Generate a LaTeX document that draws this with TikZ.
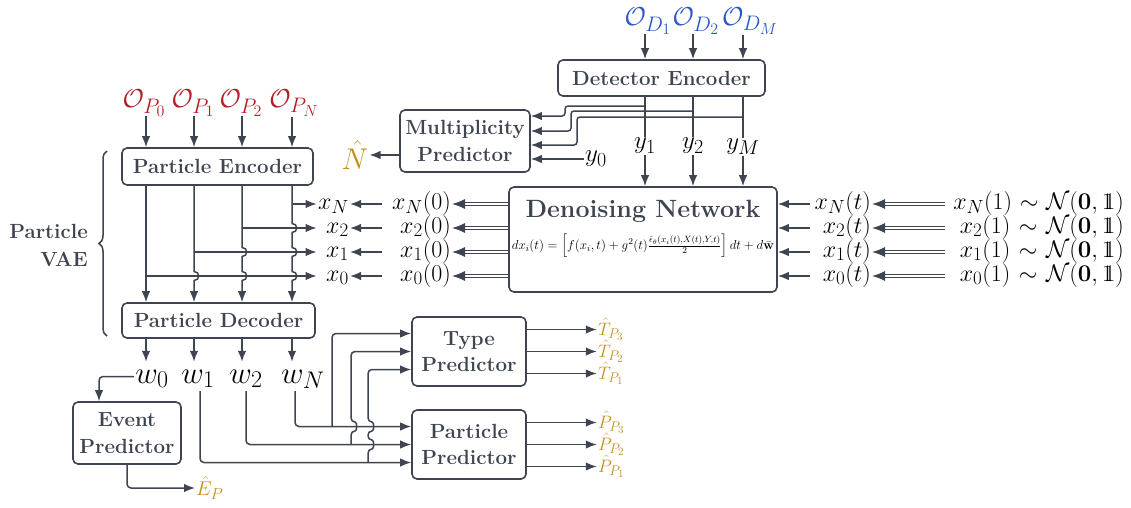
\RequirePackage{fix-cm}
\documentclass[tikz,border=0pt]{standalone}
\usepackage{amsmath,amssymb}
\usetikzlibrary{arrows.meta,calc,decorations.pathreplacing}
\definecolor{dgLine}{RGB}{62,68,80}
\definecolor{dgRed}{RGB}{176,30,36}
\definecolor{dgBlue}{RGB}{44,86,200}
\definecolor{dgGold}{RGB}{196,143,26}
\newcommand{\idone}{\mathrm{1}\mkern-6.5mu\mathrm{1}}
\DeclareMathSizes{24}{24}{19}{15}
\DeclareMathSizes{25}{25}{20}{15}
\DeclareMathSizes{26}{26}{21}{16}
\DeclareMathSizes{30}{30}{23}{17}
\DeclareMathSizes{31}{31}{24}{18}
\DeclareMathSizes{18}{18}{14}{11}
\DeclareMathSizes{20}{20}{16}{12}

\begin{document}
\begin{tikzpicture}[
  x=1pt, y=-1pt,
  blk/.style={rounded corners=5pt, draw=dgLine, line width=1.6pt, fill=white, text=dgLine, align=center, inner sep=0pt, font=\fontsize{20.5}{26.5}\selectfont\bfseries},
  arr/.style={draw=dgLine, line width=1.5pt, -{Latex[length=11pt,width=8.5pt]}},
  wire/.style={draw=dgLine, line width=1.5pt},
  dbl/.style={draw=dgLine, double=white, double distance=2.4pt, line width=1.2pt, -{Latex[length=13pt,width=10pt]}},
  rlab/.style={anchor=east, align=right, inner sep=1pt, text width=#1, text height=17pt, text depth=7pt, font=\fontsize{24}{28}\selectfont},
  obs/.style={inner sep=0pt, font=\fontsize{26}{30}\selectfont},
  ylab/.style={inner sep=1pt, font=\fontsize{25}{30}\selectfont},
  wlab/.style={inner sep=1pt, text height=20pt, text depth=7pt, font=\fontsize{31}{34}\selectfont},
  predlab/.style={anchor=west, inner sep=1pt, text=dgGold, font=\fontsize{18}{20}\selectfont},
]
\useasboundingbox (0,0) rectangle (1131,507);

% line jumps on a vertical wire: #1 column, #2 row it hops over
\newcommand{\jd}[2]{-- ($(#1 |- #2)+(0,-4.5)$) to[out=0,in=0,looseness=1.8] ($(#1 |- #2)+(0,4.5)$)}
\newcommand{\ju}[2]{-- ($(#1 |- #2)+(0,4.5)$) to[out=0,in=0,looseness=1.8] ($(#1 |- #2)+(0,-4.5)$)}

% one latent row: #1 id, #2 y coord, #3 subscript
\newcommand{\xrow}[3]{%
  \node[rlab=31pt]  (xl#1) at (350,#2)  {$x_{#3}$};
  \node[rlab=68pt]  (xz#1) at (452,#2)  {$x_{#3}(0)$};
  \node[rlab=60pt]  (xt#1) at (872,#2)  {$x_{#3}(t)$};
  \node[rlab=178pt] (xo#1) at (1125,#2) {$x_{#3}(1) \sim \mathcal{N}(\mathbf{0}, \idone)$};
  \draw[arr] (xz#1) -- (xl#1);
  \draw[dbl] (den.west |- xz#1) -- (xz#1);
  \draw[arr] (xt#1) -- (den.east |- xt#1);
  \draw[dbl] (xo#1) -- (xt#1);
}

% ======================= diffusion core =======================
\node[blk, minimum width=268, minimum height=105] (den) at (643,239.5) {};
\node[text=dgLine, font=\fontsize{25}{28}\selectfont\bfseries] (dtitle) at (643,211) {Denoising Network};
\node[font=\fontsize{13}{15}\selectfont] (deq) at (643,246)
  {$dx_i(t) = \left[ f(x_i,t) + g^2(t)\frac{\hat{\epsilon}_\theta(x_i(t),X(t),Y,t)}{2} \right] dt + d\bar{\mathbf{w}}$};

% ======================= detector branch =======================
\node[obs, text=dgBlue] (od1) at (648,21) {$\mathcal{O}_{D_1}$};
\node[obs, text=dgBlue] (od2) at (696,21) {$\mathcal{O}_{D_2}$};
\node[obs, text=dgBlue] (od3) at (750,21) {$\mathcal{O}_{D_M}$};
\node[blk, minimum width=207, minimum height=36] (de) at (661.5,78) {Detector Encoder};
\node[ylab] (yl1) at (645,146) {$y_1$};
\node[ylab] (yl2) at (693,146) {$y_2$};
\node[ylab] (yl3) at (743,147) {$y_M$};
\foreach \o/\y in {od1/yl1, od2/yl2, od3/yl3} {
  \draw[arr] (\y |- \o.south) -- (\y |- de.north);
  \draw[wire] (\y |- de.south) -- (\y.north);
  \draw[arr] (\y.south) -- (\y |- den.north);
}

\node[blk, minimum width=130, minimum height=62] (mp) at (465,141) {Multiplicity\\Predictor};
\node[ylab] (yl0) at (596,159) {$y_0$};
\node[ylab, text=dgGold, font=\fontsize{30}{32}\selectfont] (nhat) at (355,155) {$\hat{N}$};
\draw[arr, rounded corners=3pt] (yl1 |- 0,106) -- (565,106) -- (565,116) -- (mp.east |- 0,116);
\draw[arr, rounded corners=3pt] (yl2 |- 0,111) -- (571,111) -- (571,131) -- (mp.east |- 0,131);
\draw[arr, rounded corners=3pt] (yl3 |- 0,117) -- (577,117) -- (577,145) -- (mp.east |- 0,145);
\draw[arr] (yl0) -- (mp.east |- yl0);
\draw[arr] (mp.west |- nhat) -- (nhat);

% ======================= particle VAE =======================
\foreach \i/\x/\s in {0/144/0, 1/193/1, 2/241/2, 3/294/N}
  \node[obs, text=dgRed] (op\i) at (\x,103) {$\mathcal{O}_{P_{\s}}$};
\foreach \i/\x in {0/146, 1/194, 2/242, 3/292}
  \coordinate (c\i) at (\x,0);
\node[blk, minimum width=191, minimum height=37] (pe) at (217.5,166.5) {Particle Encoder};
\node[blk, minimum width=193, minimum height=35] (pd) at (218.5,320.5) {Particle Decoder};
\foreach \i in {0,...,3}
  \draw[arr] (c\i |- op\i.south) -- (c\i |- pe.north);

\xrow{3}{204}{N}
\xrow{2}{228}{2}
\xrow{1}{252}{1}
\xrow{0}{276}{0}

\draw[arr] (c3 |- xl3) -- (xl3);
\draw[arr] (c2 |- xl2) -- (xl2);
\draw[arr] (c1 |- xl1) -- (xl1);
\draw[arr] (c0 |- xl0) -- (xl0);
\draw[arr] (c0 |- pe.south) -- (c0 |- pd.north);
\draw[arr] (c1 |- pe.south) \jd{c1}{xl0} -- (c1 |- pd.north);
\draw[arr] (c2 |- pe.south) \jd{c2}{xl1} \jd{c2}{xl0} -- (c2 |- pd.north);
\draw[arr] (c3 |- pe.south) \jd{c3}{xl2} \jd{c3}{xl1} \jd{c3}{xl0} -- (c3 |- pd.north);

\node[anchor=east, align=right, inner sep=0pt, text=dgLine, font=\fontsize{20.5}{28}\selectfont\bfseries] (vae) at (88,245) {Particle\\VAE};
\draw[wire, decorate, decoration={brace, amplitude=8pt}] (107,336) -- (107,151);

% ======================= read-out heads =======================
\node[wlab] (w0) at (152,376.5) {$w_0$};
\node[wlab] (w1) at (198,376.5) {$w_1$};
\node[wlab] (w2) at (246,376.5) {$w_2$};
\node[wlab] (w3) at (303,376.5) {$w_N$};
\foreach \i in {0,...,3}
  \draw[arr] (c\i |- pd.south) -- (c\i |- w\i.north);

\node[blk, minimum width=108, minimum height=62] (ev) at (127,433) {Event\\Predictor};
\node[predlab, font=\fontsize{20}{22}\selectfont] (ehat) at (195,488) {$\hat{E}_P$};
\draw[arr, rounded corners=4pt] (w0.west) -| ([xshift=-28pt]ev.north);
\draw[arr, rounded corners=4pt] (ev.south) |- (ehat.west);

\node[blk, minimum width=114, minimum height=69] (tp) at (469,351.5) {Type\\Predictor};
\node[blk, minimum width=114, minimum height=69] (pp) at (469,444.5) {Particle\\Predictor};
\coordinate (ta) at ($(tp.west)+(0,-18)$);
\coordinate (tb) at (tp.west);
\coordinate (tc) at ($(tp.west)+(0,18)$);
\coordinate (pa) at ($(pp.west)+(0,-18)$);
\coordinate (pb) at (pp.west);
\coordinate (pc) at ($(pp.west)+(0,18)$);
\coordinate (b1) at (332,0);
\coordinate (b2) at (351,0);
\coordinate (b3) at (368,0);

\draw[arr, rounded corners=4pt] ([xshift=-8pt]w3.south) |- (pa);
\draw[arr, rounded corners=4pt] (w2.south) |- (pb);
\draw[arr, rounded corners=4pt] ([xshift=2pt]w1.south) |- (pc);
\draw[arr, rounded corners=4pt] (b1 |- pa) |- (ta);
\draw[arr, rounded corners=4pt] (b2 |- pb) \ju{b2}{pa} |- (tb);
\draw[arr, rounded corners=4pt] (b3 |- pc) \ju{b3}{pb} \ju{b3}{pa} |- (tc);

\foreach \n/\d in {3/-22, 2/0, 1/22} {
  \node[predlab] (th\n) at ($(tp.east)+(70,\d)$) {$\hat{T}_{P_{\n}}$};
  \draw[arr] (tp.east |- th\n) -- (th\n);
  \node[predlab] (ph\n) at ($(pp.east)+(70,\d)$) {$\hat{P}_{P_{\n}}$};
  \draw[arr] (pp.east |- ph\n) -- (ph\n);
}

\end{tikzpicture}
\end{document}
